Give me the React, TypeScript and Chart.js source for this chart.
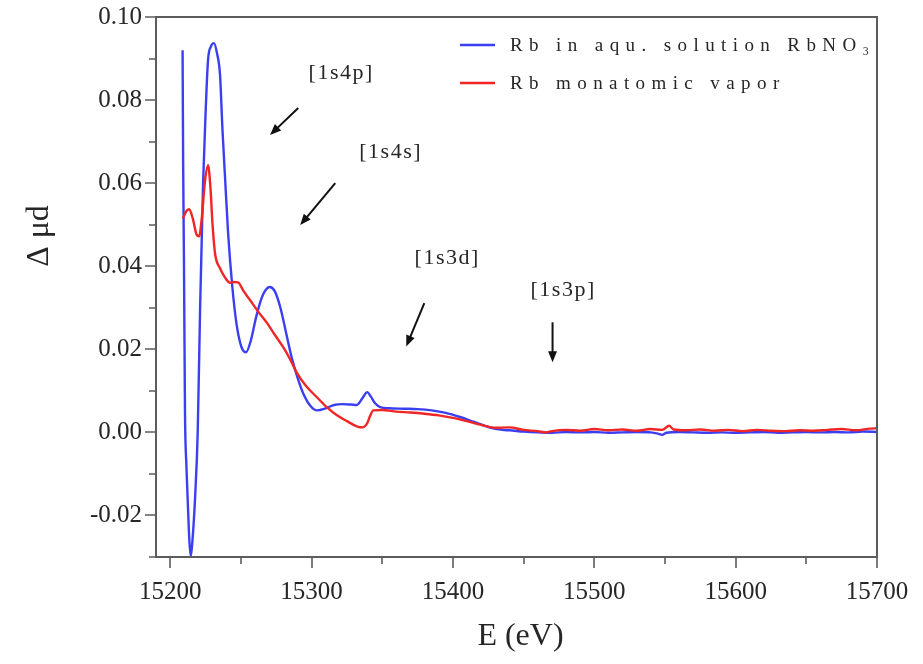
import React, { useEffect, useRef } from 'react';
import { Chart, registerables } from 'chart.js';

Chart.register(...registerables);

// ---- data ----
const seriesLabels = ['Rb in aqu. solution RbNO\u2083', 'Rb monatomic vapor'];
const seriesColors = ['#3a3ff2', '#f02626'];

const blueE = [
  15208.8, 15209.2, 15209.8, 15210.5, 15211.5, 15212.4, 15213.6, 15214.6, 15215.8, 15217.6,
  15219.5, 15221.2, 15223.3, 15225.2, 15226.8, 15229, 15231, 15233, 15235.3, 15237,
  15238.9, 15241, 15244, 15247, 15250.5, 15253.7, 15257, 15261, 15265.5, 15270.5,
  15274, 15278, 15282, 15286, 15290, 15294, 15299, 15304, 15310, 15316,
  15322, 15328, 15332, 15336, 15339.4, 15342, 15345, 15349, 15355, 15365,
  15375, 15385, 15395, 15405, 15415, 15425, 15435, 15440, 15450, 15460,
  15470, 15480, 15490, 15500, 15510, 15520, 15530, 15540, 15545, 15548,
  15551, 15560, 15570, 15580, 15590, 15600, 15610, 15620, 15630, 15640,
  15650, 15660, 15670, 15680, 15690, 15700,
];
const blueMu = [
  0.092, 0.065, 0.040, 0.005, -0.008, -0.016, -0.026, -0.0298, -0.026, -0.016,
  0.000, 0.030, 0.060, 0.078, 0.0896, 0.0930, 0.0937, 0.0915, 0.0860, 0.073,
  0.061, 0.048, 0.035, 0.026, 0.0205, 0.0193, 0.022, 0.028, 0.0330, 0.0350,
  0.0340, 0.0300, 0.0240, 0.0180, 0.0133, 0.0095, 0.0065, 0.0053, 0.0058, 0.0066,
  0.0068, 0.0067, 0.0066, 0.0082, 0.0097, 0.0086, 0.0070, 0.0060, 0.0058, 0.0057,
  0.0056, 0.0053, 0.0047, 0.0037, 0.0025, 0.0013, 0.0006, 0.0005, 0.0002, 0.0000,
  -0.0001, 0.0001, 0.0000, 0.0001, -0.0001, 0.0000, 0.0001, 0.0000, -0.0003, -0.0006,
  -0.0001, 0.0001, 0.0000, -0.0001, 0.0000, -0.0001, 0.0000, 0.0001, -0.0001, 0.0000,
  0.0001, 0.0000, 0.0001, 0.0000, 0.0002, 0.0001,
];

const redE = [
  15209, 15211, 15213.4, 15216, 15218.5, 15220.5, 15222.5, 15224.5, 15226.8, 15228.5,
  15230, 15231.8, 15235.3, 15239, 15242.4, 15245, 15248, 15252, 15256.6, 15262,
  15268.6, 15274, 15280, 15285, 15289.9, 15296, 15304, 15311, 15318, 15325,
  15332.4, 15336, 15339.4, 15341.5, 15343.7, 15350, 15360, 15370, 15380, 15390,
  15400, 15410, 15420, 15430, 15440, 15450, 15460, 15466, 15470, 15480,
  15490, 15500, 15510, 15520, 15530, 15540, 15548, 15553, 15556, 15565,
  15575, 15585, 15595, 15605, 15615, 15625, 15635, 15645, 15655, 15665,
  15675, 15685, 15695, 15700,
];
const redMu = [
  0.0515, 0.0530, 0.0537, 0.0515, 0.0478, 0.0472, 0.0520, 0.0600, 0.0643, 0.0590,
  0.0500, 0.0430, 0.0395, 0.0372, 0.0360, 0.0362, 0.0361, 0.0340, 0.0318, 0.0292,
  0.0263, 0.0235, 0.0205, 0.0175, 0.0142, 0.0112, 0.0084, 0.0060, 0.0041, 0.0027,
  0.0014, 0.0012, 0.0022, 0.0040, 0.0053, 0.0054, 0.0050, 0.0048, 0.0045, 0.0041,
  0.0035, 0.0027, 0.0018, 0.0011, 0.0012, 0.0006, 0.0003, 0.0000, 0.0003, 0.0006,
  0.0004, 0.0008, 0.0005, 0.0007, 0.0004, 0.0008, 0.0006, 0.0016, 0.0007, 0.0005,
  0.0007, 0.0004, 0.0006, 0.0003, 0.0006, 0.0004, 0.0003, 0.0005, 0.0004, 0.0006,
  0.0008, 0.0005, 0.0009, 0.0010,
];

const xMin = 15190;
const xMax = 15700;
const yMin = -0.03;
const yMax = 0.10;
// tick positions (major ones are labelled)
const xTickValues = [15200, 15250, 15300, 15350, 15400, 15450, 15500, 15550, 15600, 15650, 15700];
const xTickLabelValues = [15200, 15300, 15400, 15500, 15600, 15700];
const yTickValues = [-0.03, -0.02, -0.01, 0.0, 0.01, 0.02, 0.03, 0.04, 0.05, 0.06, 0.07, 0.08, 0.09, 0.10];
const yTickLabelValues = [-0.02, 0.0, 0.02, 0.04, 0.06, 0.08, 0.10];
const xTitle = 'E (eV)';
const yTitle = '\u0394 \u03bcd';

// annotations (data coordinates)
const annotLabels = ['[1s4p]', '[1s4s]', '[1s3d]', '[1s3p]'];
const annotLabelE = [15321, 15356, 15396, 15478];
const annotLabelMu = [0.0865, 0.0675, 0.0419, 0.0342];
const arrowFromE = [15290.6, 15316.8, 15379.8, 15470.5];
const arrowFromMu = [0.0781, 0.0600, 0.0311, 0.0265];
const arrowToE = [15270.7, 15292, 15367, 15470.5];
const arrowToMu = [0.0716, 0.0499, 0.0207, 0.0169];

const FONT = "'Liberation Serif', 'Times New Roman', serif";
const TEXT = '#262626';
const AXIS = '#5c5c5c';

const isLabelX = (v: number) => xTickLabelValues.some((t) => Math.abs(t - v) < 1e-6);
const isLabelY = (v: number) => yTickLabelValues.some((t) => Math.abs(t - v) < 1e-6);

const decorPlugin = {
  id: 'decor',
  afterDraw(chart: any) {
    const { ctx, chartArea, scales } = chart;
    const { left, right, top, bottom } = chartArea;
    const x = scales.x;
    const y = scales.y;
    ctx.save();
    // frame
    ctx.strokeStyle = AXIS;
    ctx.lineWidth = 2;
    ctx.strokeRect(left, top, right - left, bottom - top);
    // ticks
    ctx.lineWidth = 1.6;
    ctx.beginPath();
    x.ticks.forEach((t: any) => {
      const px = Math.round(x.getPixelForValue(t.value));
      const major = isLabelX(t.value);
      ctx.moveTo(px, bottom);
      ctx.lineTo(px, bottom + (major ? 11 : 7));
    });
    y.ticks.forEach((t: any) => {
      const py = Math.round(y.getPixelForValue(t.value));
      const major = isLabelY(t.value);
      ctx.moveTo(left, py);
      ctx.lineTo(left - (major ? 11 : 7), py);
    });
    ctx.stroke();

    // axis titles
    ctx.fillStyle = TEXT;
    ctx.font = `32px ${FONT}`;
    ctx.textAlign = 'center';
    ctx.textBaseline = 'middle';
    ctx.fillText(xTitle, (left + right) / 2 + 4, 637);
    ctx.save();
    ctx.translate(40, 236);
    ctx.rotate(-Math.PI / 2);
    ctx.fillText(yTitle, 0, 0);
    ctx.restore();

    // annotations
    ctx.font = `22px ${FONT}`;
    (ctx as any).letterSpacing = '1.5px';
    annotLabels.forEach((lab, i) => {
      ctx.fillStyle = TEXT;
      ctx.fillText(lab, x.getPixelForValue(annotLabelE[i]), y.getPixelForValue(annotLabelMu[i]));
      const x0 = x.getPixelForValue(arrowFromE[i]);
      const y0 = y.getPixelForValue(arrowFromMu[i]);
      const x1 = x.getPixelForValue(arrowToE[i]);
      const y1 = y.getPixelForValue(arrowToMu[i]);
      const ang = Math.atan2(y1 - y0, x1 - x0);
      const hl = 11;
      const hw = 4.5;
      ctx.strokeStyle = '#111';
      ctx.fillStyle = '#111';
      ctx.lineWidth = 2;
      ctx.beginPath();
      ctx.moveTo(x0, y0);
      ctx.lineTo(x1 - Math.cos(ang) * hl * 0.8, y1 - Math.sin(ang) * hl * 0.8);
      ctx.stroke();
      ctx.beginPath();
      ctx.moveTo(x1, y1);
      ctx.lineTo(x1 - Math.cos(ang) * hl + Math.sin(ang) * hw, y1 - Math.sin(ang) * hl - Math.cos(ang) * hw);
      ctx.lineTo(x1 - Math.cos(ang) * hl - Math.sin(ang) * hw, y1 - Math.sin(ang) * hl + Math.cos(ang) * hw);
      ctx.closePath();
      ctx.fill();
    });

    // legend
    ctx.font = `19px ${FONT}`;
    (ctx as any).letterSpacing = '6.4px';
    ctx.textAlign = 'left';
    chart.data.datasets.forEach((ds: any, i: number) => {
      const ly = top + 28 + i * 38;
      const lx = left + 304;
      ctx.strokeStyle = ds.borderColor;
      ctx.lineWidth = 2.5;
      ctx.beginPath();
      ctx.moveTo(lx, ly);
      ctx.lineTo(lx + 35, ly);
      ctx.stroke();
      ctx.fillStyle = TEXT;
      ctx.fillText(ds.label, lx + 50, ly + 1);
    });
    (ctx as any).letterSpacing = '0px';
    ctx.restore();
  },
};

export default function App() {
  const ref = useRef<HTMLCanvasElement | null>(null);
  useEffect(() => {
    if (!ref.current) return;
    const chart = new Chart(ref.current, {
      type: 'line',
      data: {
        datasets: [
          {
            label: seriesLabels[0],
            data: blueE.map((e, i) => ({ x: e, y: blueMu[i] })),
            borderColor: seriesColors[0],
            borderWidth: 2.4,
            pointRadius: 0,
            cubicInterpolationMode: 'monotone',
            order: 1,
          },
          {
            label: seriesLabels[1],
            data: redE.map((e, i) => ({ x: e, y: redMu[i] })),
            borderColor: seriesColors[1],
            borderWidth: 2.4,
            pointRadius: 0,
            cubicInterpolationMode: 'monotone',
            order: 0,
          },
        ],
      },
      options: {
        animation: false,
        responsive: false,
        devicePixelRatio: 1,
        layout: { padding: { top: 17, right: 46, left: 0, bottom: 0 } },
        plugins: { legend: { display: false }, tooltip: { enabled: false } },
        scales: {
          x: {
            type: 'linear',
            min: xMin,
            max: xMax,
            afterBuildTicks: (s: any) => {
              s.ticks = xTickValues.map((v) => ({ value: v }));
            },
            afterFit: (s: any) => {
              s.height = 107;
              s.paddingLeft = 0;
              s.paddingRight = 0;
            },
            ticks: {
              autoSkip: false,
              maxRotation: 0,
              padding: 20,
              color: TEXT,
              font: { family: FONT, size: 25 },
              callback: (v: any) => (isLabelX(Number(v)) ? String(Math.round(Number(v))) : ''),
            },
            grid: { display: false, drawTicks: false },
            border: { display: false },
          },
          y: {
            type: 'linear',
            min: yMin,
            max: yMax,
            afterBuildTicks: (s: any) => {
              s.ticks = yTickValues.map((v) => ({ value: v }));
            },
            afterFit: (s: any) => {
              s.width = 156;
              s.paddingTop = 0;
              s.paddingBottom = 0;
            },
            ticks: {
              autoSkip: false,
              padding: 14,
              color: TEXT,
              font: { family: FONT, size: 25 },
              callback: (v: any) => (isLabelY(Number(v)) ? Number(v).toFixed(2) : ''),
            },
            grid: { display: false, drawTicks: false },
            border: { display: false },
          },
        },
      },
      plugins: [decorPlugin],
    } as any);
    return () => chart.destroy();
  }, []);
  return (
    <div style={{ position: 'fixed', left: 0, top: 0, width: 923, height: 664, background: '#fff' }}>
      <canvas ref={ref} width={923} height={664} style={{ display: 'block' }} />
    </div>
  );
}
